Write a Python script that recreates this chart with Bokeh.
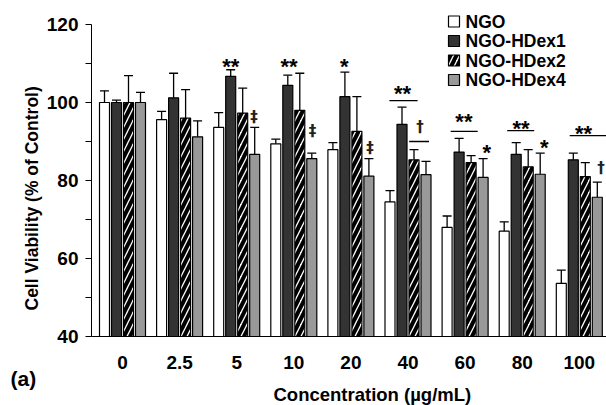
from bokeh.plotting import figure
from bokeh.models import (ColumnDataSource, Range1d, FixedTicker, Whisker, TeeHead, Title)
from bokeh.core.properties import value
from bokeh.embed import file_html
from bokeh.resources import INLINE

# ---------------- data ----------------
categories = ["0", "2.5", "5", "10", "20", "40", "60", "80", "100"]
series = ["NGO", "NGO-HDex1", "NGO-HDex2", "NGO-HDex4"]
ngo      = [100.0, 95.6, 93.6, 89.4, 87.9, 74.5, 68.0, 67.0, 53.6]
ngo_err  = [103.0, 97.7, 97.4, 90.6, 89.7, 77.4, 70.9, 69.4, 57.0]
hdex1    = [100.0, 101.2, 106.7, 104.4, 101.5, 94.4, 87.3, 86.7, 85.3]
hdex1_err = [100.6, 107.5, 108.4, 107.0, 107.8, 98.8, 90.8, 89.7, 87.0]
hdex2    = [100.0, 96.0, 97.3, 98.0, 92.6, 85.3, 84.6, 83.5, 81.0]
hdex2_err = [106.9, 103.3, 103.7, 107.5, 101.5, 87.9, 86.4, 87.9, 84.6]
hdex4    = [100.0, 91.2, 86.7, 85.6, 81.1, 81.5, 80.8, 81.6, 75.7]
hdex4_err = [102.6, 95.3, 93.6, 87.0, 85.6, 84.9, 85.6, 87.0, 79.6]

# significance marks: group index, slot (bar position in group), text, y value
mark_group = [2, 2, 3, 3, 4, 4, 5, 5, 6, 6, 7, 7, 8, 8]
mark_slot  = [-0.5, 1.45, -0.4, 1.55, -0.55, 1.6, -0.45, 1.0, -0.1, 1.8, -0.1, 1.85, 0.35, 1.8]
mark_text  = ["**", "\u2021", "**", "\u2021", "*", "\u2021", "**", "\u2020", "**", "*", "**", "*", "**", "\u2020"]
mark_y     = [110.6, 96.4, 110.6, 92.6, 110.6, 88.3, 103.6, 93.6, 96.4, 88.5, 94.6, 89.8, 93.3, 83.1]

# bracket lines: group, slot start, slot end, y value
line_group = [5, 5, 6, 7, 8]
line_s0    = [-1.55, 0.1, -1.2, -1.25, -0.8]
line_s1    = [0.8, 1.75, 1.05, 1.0, 2.3]
line_y     = [100.5, 90.0, 92.6, 92.8, 91.5]

# ---------------- geometry ----------------
W, H = 606, 405
FRAME_L, FRAME_B = 91, 336
PX_PER_CAT = 57.1
CAT0_PX = 122
PX_PER_Y = 3.9
Y_TOP_PX = 24  # pixel of y=120
x_start = -(CAT0_PX - FRAME_L) / PX_PER_CAT
x_end = x_start + (W - FRAME_L) / PX_PER_CAT
y_end = 120 + Y_TOP_PX / PX_PER_Y

def dx(px):
    return x_start + (px - FRAME_L) / PX_PER_CAT

def dy(py):
    return 40 + (FRAME_B - py) / PX_PER_Y

pitch = 12 / PX_PER_CAT
bw = 10 / PX_PER_CAT
FONT = "Liberation Sans"

p = figure(width=W, height=H, x_range=Range1d(x_start, x_end), y_range=Range1d(40, y_end),
           output_backend="svg", toolbar_location=None,
           min_border_left=FRAME_L, min_border_right=0, min_border_top=0,
           min_border_bottom=H - FRAME_B)
p.outline_line_color = None
p.xgrid.visible = False
p.ygrid.visible = False
p.background_fill_color = "white"
p.border_fill_color = "white"

fills = ["white", "#333333", "white", "#999999"]
vals = [ngo, hdex1, hdex2, hdex4]
errs = [ngo_err, hdex1_err, hdex2_err, hdex4_err]
slots = [-1.5, -0.5, 0.5, 1.5]

for k in range(4):
    xs = [i + slots[k] * pitch for i in range(len(categories))]
    src = ColumnDataSource(dict(x=xs, top=vals[k], err=errs[k]))
    kw = {}
    if k == 2:
        kw = dict(hatch_pattern="/", hatch_color="black", hatch_scale=12, hatch_weight=4)
    p.vbar(x="x", top="top", bottom=40, width=bw, source=src, fill_color=fills[k],
           line_color="black", line_width=1.2, **kw)
    wh = Whisker(base="x", upper="err", lower="top", source=src, dimension="height",
                 line_color="black", line_width=1.3,
                 upper_head=TeeHead(size=9, line_color="black", line_width=1.3),
                 lower_head=None)
    p.add_layout(wh)

# significance marks
STAR_SHIFT = 5 / PX_PER_Y
mx = [g + s * pitch for g, s in zip(mark_group, mark_slot)]
my = [y - (STAR_SHIFT if "*" in t else 0) for y, t in zip(mark_y, mark_text)]
star_idx = [i for i, t in enumerate(mark_text) if "*" in t]
dag_idx = [i for i, t in enumerate(mark_text) if "*" not in t]
p.text(x=[mx[i] for i in star_idx], y=[my[i] for i in star_idx], text=[mark_text[i] for i in star_idx],
       text_font=value(FONT), text_font_size="22px", text_font_style="bold",
       text_align="center", text_baseline="middle", text_color="black")
p.text(x=[mx[i] for i in dag_idx], y=[my[i] for i in dag_idx], text=[mark_text[i] for i in dag_idx],
       text_font=value("DejaVu Sans"), text_font_size="15px", text_font_style="bold",
       text_align="center", text_baseline="middle", text_color="#222222")
p.segment(x0=[g + s * pitch for g, s in zip(line_group, line_s0)], y0=line_y,
          x1=[g + s * pitch for g, s in zip(line_group, line_s1)], y1=line_y,
          line_color="black", line_width=1.3)

# legend (manual)
leg_y = [dy(21 + 19.5 * k) for k in range(4)]
leg_x = [dx(453.5)] * 4
for k in range(4):
    kw = {}
    if k == 2:
        kw = dict(hatch_pattern="/", hatch_color="black", hatch_scale=12, hatch_weight=4)
    p.rect(x=[leg_x[k]], y=[leg_y[k]], width=11, height=11, width_units="screen",
           height_units="screen", fill_color=fills[k], line_color="black", line_width=1.2, **kw)
p.text(x=[dx(465)] * 4, y=leg_y, text=series, text_font=value(FONT), text_font_size="17.5px",
       text_font_style="bold", text_align="left", text_baseline="middle", text_color="black")

# axes
p.yaxis.ticker = FixedTicker(ticks=[40, 60, 80, 100, 120], minor_ticks=[50, 70, 90, 110])
p.yaxis.bounds = (40, 120)
p.yaxis.major_tick_out = 6
p.yaxis.major_tick_in = 0
p.yaxis.minor_tick_out = 6
p.yaxis.minor_tick_in = 0
p.yaxis.major_label_standoff = 7
p.yaxis.major_label_text_font = FONT
p.yaxis.major_label_text_font_size = "19px"
p.yaxis.major_label_text_font_style = "bold"
p.yaxis.major_label_text_color = "black"
p.yaxis.axis_line_color = "black"
p.yaxis.major_tick_line_color = "black"
p.yaxis.minor_tick_line_color = "black"

p.xaxis.ticker = FixedTicker(ticks=list(range(len(categories))), minor_ticks=[])
p.xaxis.major_label_overrides = {i: c for i, c in enumerate(categories)}
p.xaxis.major_tick_out = 0
p.xaxis.major_tick_in = 0
p.xaxis.minor_tick_out = 0
p.xaxis.minor_tick_in = 0
p.xaxis.major_label_standoff = 19
p.xaxis.major_label_text_font = FONT
p.xaxis.major_label_text_font_size = "19px"
p.xaxis.major_label_text_font_style = "bold"
p.xaxis.major_label_text_color = "black"
p.xaxis.axis_line_color = "black"

# axis titles & panel label as side-panel titles
ylab = Title(text="Cell Viability (% of Control)", align="left", offset=26, standoff=4,
             text_font=FONT, text_font_size="17.5px", text_font_style="bold", text_color="black")
p.add_layout(ylab, "left")
alab = Title(text="(a)", align="left", offset=-81, standoff=-12, vertical_align="middle",
             text_font=FONT, text_font_size="21px", text_font_style="bold", text_color="black")
p.add_layout(alab, "below")
xlab = Title(text="Concentration (\u00b5g/mL)", align="left", offset=182, standoff=-5,
             text_font=FONT, text_font_size="18.5px", text_font_style="bold", text_color="black")
p.add_layout(xlab, "below")

open("out.html", "w").write(file_html(p, INLINE))
